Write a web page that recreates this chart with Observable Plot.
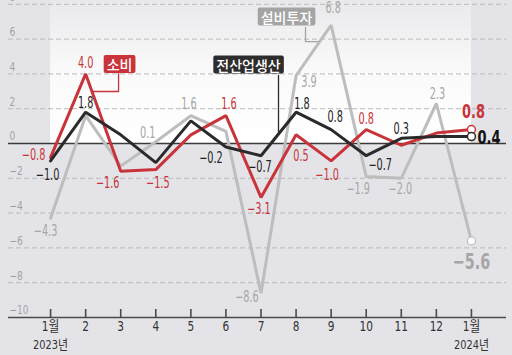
<!DOCTYPE html>
<html><head><meta charset="utf-8">
<script src="https://cdn.jsdelivr.net/npm/d3@7"></script>
<script src="https://cdn.jsdelivr.net/npm/@observablehq/plot@0.6"></script>
<style>
html,body{margin:0;padding:0;background:#e4e4e8;}
#chart svg{display:block;}
</style></head><body><div id="chart"></div>
<script>
// ---- data ----
const months = [1,2,3,4,5,6,7,8,9,10,11,12,13];
const tickLabels = ["1월","2","3","4","5","6","7","8","9","10","11","12","1월"];
const yearLabels = ["2023년","","","","","","","","","","","","2024년"];
const consumption = [-0.8,4.0,-1.6,-1.5,0.5,1.6,-3.1,0.5,-1.0,0.8,-0.1,0.6,0.8];   // 소비
const production  = [-1.0,1.8,0.5,-1.1,1.3,-0.2,-0.7,1.8,0.8,-0.7,0.3,0.4,0.4];   // 전산업생산
const investment  = [-4.3,1.6,-1.3,0.1,1.6,0.7,-8.6,3.9,6.8,-1.9,-2.0,2.3,-5.6];  // 설비투자
const yTicks = [8,6,4,2,0,-2,-4,-6,-8,-10];
const seriesNames = ["소비","전산업생산","설비투자"];

// ---- layout (label offsets in px, annotation anchors in data units) ----
const redLabels = [{i:0,dx:-17,dy:-2},{i:1,dx:0,dy:-11},{i:2,dx:-13,dy:12},{i:3,dx:2,dy:14},{i:5,dx:3,dy:-11},{i:6,dx:-2,dy:12},{i:7,dx:5,dy:21},{i:8,dx:-4,dy:14},{i:9,dx:0,dy:-10}];
const blackLabels = [{i:0,dx:-3,dy:14},{i:1,dx:0,dy:-9},{i:5,dx:-15,dy:11},{i:6,dx:-1,dy:11},{i:7,dx:6,dy:-8},{i:8,dx:4,dy:-12},{i:9,dx:14,dy:9},{i:10,dx:0,dy:-9}];
const grayLabels = [{i:0,dx:-5,dy:13},{i:3,dx:-8,dy:-9},{i:4,dx:-2,dy:-11},{i:6,dx:-14,dy:4},{i:7,dx:13,dy:7},{i:8,dx:2,dy:-17},{i:9,dx:-8,dy:13},{i:10,dx:-1,dy:11},{i:11,dx:1,dy:-9}];
const legendBoxes = [
  {x:2.967, y:4.48, fill:"#c9343a", path:[[2.938,4.02],[2.938,2.99],[2.197,2.99]]},
  {x:6.644, y:4.45, fill:"#2d2d2d", path:[[7.499,3.91],[7.499,0.55]]},
  {x:7.727, y:7.21, fill:"#a4a4a4", path:[[8.269,6.67],[8.269,5.86],[8.639,5.86]]}
];

const RED="#c9343a", BLACK="#2a2a2a", GRAY="#bdbdbd", GRAYTXT="#a6a6a6";
const numFont = "'DejaVu Sans Condensed','Noto Sans CJK KR',sans-serif";
const korFont = "'Noto Sans CJK KR',sans-serif";
const fmt = v => (v < 0 ? "\u2212" : "") + Math.abs(v).toFixed(1);
const yDomain = [-10, 8.22];
const W = 512, H = 355, mB = 38;
const tickLenUnits = 8 * (yDomain[1]-yDomain[0]) / (H - mB);

const idx = months.map((_, i) => i);
const last = months.length - 1;

function seriesLabels(list, values, color) {
  return list.map(l => Plot.text([l.i], {
    x: i => months[i], y: i => values[i], text: i => fmt(values[i]),
    dx: l.dx, dy: l.dy, fill: color, fontSize: 15, fontFamily: numFont, className: "sq-num"
  }));
}

const chart = Plot.plot({
  width: W, height: H,
  marginLeft: 8, marginRight: 6, marginTop: 0, marginBottom: mB,
  x: {domain: [-0.2, 14.0], axis: null},
  y: {domain: yDomain, axis: null},
  style: {background: "#e4e4e8", fontFamily: numFont},
  marks: [
    Plot.rect([0], {x1: months[0], x2: months[last], y1: 0, y2: yDomain[1], fill: "url(#panelGrad)"}),
    Plot.ruleY(yTicks.filter(t => t !== 0 && t !== -10), {stroke: "#b9b9bd", strokeWidth: 1, strokeDasharray: "5,3"}),
    Plot.text(yTicks, {x: -0.2, y: d => d, text: d => (d < 0 ? "\u2212" : "") + Math.abs(d), textAnchor: "start", dx: 1, dy: -7, fill: "#a2a2a6", fontSize: 12, className: "sq-axis"}),
    Plot.ruleY([0], {stroke: "#3a3a3a", strokeWidth: 1.3}),
    Plot.ruleY([-10], {stroke: "#4a4a4a", strokeWidth: 1.6}),
    Plot.ruleX(months, {x: d => d, y1: yDomain[0], y2: yDomain[0] + tickLenUnits, stroke: "#4a4a4a", strokeWidth: 1.6}),
    Plot.text(idx, {x: i => months[i], y: yDomain[0], text: i => tickLabels[i], dy: 9, fill: "#333", fontSize: 14, fontFamily: numFont, className: "sq-axis"}),
    Plot.text(idx.filter(i => yearLabels[i]), {x: i => months[i], y: yDomain[0], text: i => yearLabels[i], dy: 27, fill: "#333", fontSize: 13, fontFamily: numFont, className: "sq-axis"}),
    // series lines
    Plot.line(idx, {x: i => months[i], y: i => investment[i], stroke: GRAY, strokeWidth: 3, strokeLinejoin: "miter"}),
    Plot.line(idx, {x: i => months[i], y: i => consumption[i], stroke: RED, strokeWidth: 3, strokeLinejoin: "miter"}),
    Plot.line(idx, {x: i => months[i], y: i => production[i], stroke: BLACK, strokeWidth: 3, strokeLinejoin: "miter"}),
    // end markers
    Plot.dot([last], {x: i => months[i], y: i => investment[i], r: 4, fill: "white", stroke: GRAY, strokeWidth: 1.2}),
    Plot.dot([last], {x: i => months[i], y: i => consumption[i], r: 4, fill: "white", stroke: RED, strokeWidth: 1.5}),
    Plot.dot([last], {x: i => months[i], y: i => production[i], r: 4, fill: "white", stroke: BLACK, strokeWidth: 1.5}),
    // value labels
    ...seriesLabels(grayLabels, investment, GRAYTXT),
    ...seriesLabels(redLabels, consumption, RED),
    ...seriesLabels(blackLabels, production, "#222"),
    Plot.text([last], {x: i => months[i], y: i => consumption[i], text: i => fmt(consumption[i]), dx: 2, dy: -18, fill: RED, fontSize: 19, fontWeight: "bold", className: "sq-big"}),
    Plot.text([last], {x: i => months[i], y: i => production[i], text: i => fmt(production[i]), dx: 6, dy: 1, textAnchor: "start", fill: "#111", fontSize: 19, fontWeight: "bold", className: "sq-big"}),
    Plot.text([last], {x: i => months[i], y: i => investment[i], text: i => fmt(investment[i]), dx: 0, dy: 21, fill: GRAYTXT, fontSize: 21, fontWeight: "bold", className: "sq-big"}),
    // legend connectors and boxes
    ...legendBoxes.map(b => Plot.line(b.path, {x: d => d[0], y: d => d[1], stroke: b.fill, strokeWidth: 1.3})),
    ...legendBoxes.map((b, k) => Plot.text([k], {x: () => b.x, y: () => b.y, text: k2 => seriesNames[k2], fill: "white", fontSize: 14, fontWeight: 500, fontFamily: korFont, className: "legend-" + k}))
  ]
});

document.getElementById("chart").appendChild(chart);

// gradient for the upper panel
const svg = d3.select(chart);
const defs = svg.insert("defs", ":first-child");
const g = defs.append("linearGradient").attr("id", "panelGrad").attr("x1", 0).attr("y1", 0).attr("x2", 0).attr("y2", 1);
g.append("stop").attr("offset", "0%").attr("stop-color", "#e9e9ec");
g.append("stop").attr("offset", "50%").attr("stop-color", "#fafafa");
g.append("stop").attr("offset", "100%").attr("stop-color", "#ffffff");

// horizontally condensed number labels (narrow newspaper type)
const squeeze = {"sq-num": 0.72, "sq-big": 0.76, "sq-axis": 0.84};
Object.entries(squeeze).forEach(([cls, s]) => {
  svg.selectAll("." + cls + " text").each(function() {
    const t = this.getAttribute("transform") || "";
    this.setAttribute("transform", t + ` scale(${s},1)`);
  });
});

// boxes behind legend labels
legendBoxes.forEach((b, k) => {
  svg.selectAll(".legend-" + k + " text").each(function() {
    const bb = this.getBBox();
    const cy = bb.y + bb.height / 2;
    d3.select(this.parentNode).insert("rect", "text")
      .attr("transform", this.getAttribute("transform"))
      .attr("x", bb.x - 3).attr("y", cy - 9)
      .attr("width", bb.width + 6).attr("height", 18)
      .attr("rx", 2).attr("fill", b.fill);
  });
});
</script>
</body></html>
